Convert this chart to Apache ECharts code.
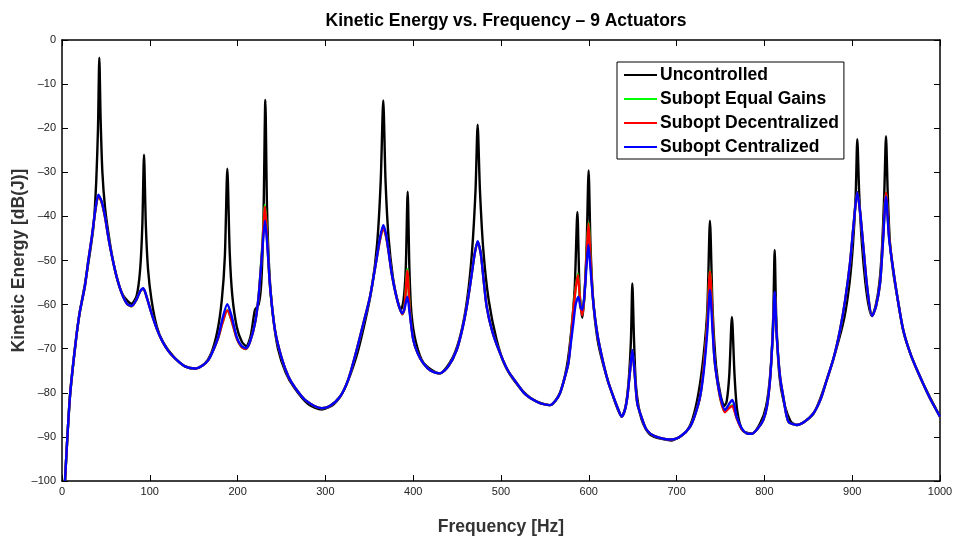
<!DOCTYPE html>
<html>
<head>
<meta charset="utf-8">
<script src="https://cdn.jsdelivr.net/npm/echarts@6/dist/echarts.min.js"></script>
<style>html,body{margin:0;padding:0;background:#fff}#c{width:954px;height:541px}</style>
</head>
<body>
<div id="c"></div>
<script>
var seriesNames = ['Uncontrolled', 'Subopt Equal Gains', 'Subopt Decentralized', 'Subopt Centralized'];
var xTicks = [0, 100, 200, 300, 400, 500, 600, 700, 800, 900, 1000];
var yTicks = [0, -10, -20, -30, -40, -50, -60, -70, -80, -90, -100];

var uncontrolled = [[3.4,-100],[9,-81],[15,-69.5],[20,-62],[26,-55.5],[32,-48],[36,-42],[39,-32],[41,-20],[42.5,-4],[44,-18],[46,-30],[49,-38],[53,-44],[58,-50],[64,-55],[70,-58],[79,-59.8],[85,-58],[89,-52],[91.5,-42],[93.4,-26],[95.5,-42],[98,-52],[102,-59],[108,-65],[115,-68.5],[128,-72],[140,-74],[152,-74.5],[162,-73.5],[170,-71],[177,-66],[182,-59],[185.5,-49],[188.3,-29.2],[191,-48],[194,-58],[199,-65],[205,-68.5],[210,-69.4],[215,-67],[219.8,-61.2],[224,-60],[227,-55],[229.5,-40],[231.6,-13.6],[233.5,-38],[236,-52],[240,-62],[246,-70],[255,-75.5],[265,-79],[280,-82.5],[296,-83.8],[310,-82.5],[322,-79],[335,-72],[345,-64],[353,-56],[359,-46],[363,-32],[365.9,-13.7],[368.5,-32],[372,-45],[377,-54],[382,-59],[386,-61.2],[389,-59],[391.5,-52],[393.7,-34.4],[395.7,-52],[398,-62],[403,-68.5],[412,-73.3],[430,-75.6],[445,-72],[455,-66],[462,-58],[467,-48],[471,-34],[473.4,-19.2],[476,-34],[480,-48],[486,-59],[495,-68],[505,-74],[520,-78.5],[537,-81.6],[556,-82.8],[567,-80.1],[575,-74],[580,-66],[584,-56],[587,-39],[589.5,-57],[592.6,-63],[595,-58],[597.5,-47],[599.8,-29.6],[602,-47],[605,-59],[610,-68],[617,-74],[628,-81],[637.5,-85.4],[642,-83],[645.5,-77],[648,-68],[649.6,-55.2],[651.5,-68],[654,-79],[660,-86],[670,-89.5],[694,-90.8],[710,-89],[718,-86],[725,-80],[731,-71],[735,-61],[738,-41],[741,-61],[745,-74],[750,-80.5],[754.3,-83],[757,-82],[760,-76],[763,-62.8],[766,-76],[769,-84],[775,-88.5],[785.4,-89.3],[795,-87],[802,-83],[807,-75],[810,-63],[811.7,-47.6],[813.5,-63],[817,-76],[822,-82],[830,-86.5],[837,-87.3],[856,-84.7],[871,-77.1],[882,-70],[891,-63],[897,-55],[901,-46],[904,-35],[905.8,-22.5],[908,-35],[911,-46],[915,-55],[919,-60.5],[922.6,-62.6],[927,-60],[931,-55],[934,-47],[936.5,-35],[938.5,-21.8],[940.5,-35],[943,-46],[947,-53],[952,-59],[958,-65.8],[966,-71],[977,-76.3],[988,-80.8],[1000,-85.4]];

var equalGains = [[3.4,-100],[9,-81],[15,-69.5],[20,-62],[26,-55.9],[30,-50],[34,-44.6],[38,-38.7],[41.4,-35.4],[45,-36.7],[49,-40.2],[53,-45],[57,-49.1],[62,-53.5],[68,-57.4],[74,-59.8],[79.3,-60.4],[85,-58.8],[89,-57],[92.6,-56.4],[96,-58],[102,-62],[108,-65.5],[113.5,-68],[121,-70.5],[128.7,-72.2],[140,-74],[151.5,-74.5],[160,-73.8],[166.6,-72.6],[173,-70],[178,-67.5],[183,-64],[188.3,-61.2],[193,-63.5],[198.9,-67.6],[204,-69.5],[209.2,-70.1],[214,-68.5],[219.8,-64.2],[224,-58],[228,-47],[231.2,-37.4],[234,-46],[237,-56],[242.6,-65.8],[250,-72],[257.8,-76.3],[266,-79],[276.8,-81.6],[295.7,-83.5],[305,-83],[316.6,-80.9],[326,-77],[335.6,-70.3],[343,-64.5],[350.8,-58.2],[358,-50],[362,-45.5],[365.9,-42.6],[369,-44.5],[372,-48],[375.5,-52.9],[380,-57.5],[384,-60.5],[387.6,-62.2],[390,-61],[393.4,-52],[396,-61],[400.1,-68],[405,-71],[411.5,-73.3],[420,-75],[430.5,-75.6],[440,-74],[449.5,-70.3],[456,-65.5],[461,-60.5],[466,-54],[470,-48.5],[473.4,-45.8],[477,-48.5],[480,-54],[483.7,-60.5],[490,-66],[498.9,-71],[508,-75],[517.9,-77.8],[526,-80],[536.8,-81.6],[545,-82.4],[555.8,-82.8],[562,-81.8],[567.2,-80.1],[572,-77],[576.7,-73.3],[580,-67],[583,-60],[587.5,-53],[590.5,-60],[592.6,-62.2],[595,-58],[597.5,-49],[599.7,-41.4],[602,-50],[605.2,-59.7],[610,-67],[616.6,-73.3],[622,-77.5],[628,-80.9],[633,-83.5],[637.5,-85.4],[641,-84],[643.9,-80.9],[647,-75],[649.6,-70.5],[652,-75],[655.2,-82.4],[660,-85.5],[665.9,-88.4],[675,-89.8],[694.4,-90.6],[705,-89.8],[715.3,-87.7],[721,-85],[726.7,-80.9],[731,-74],[735,-64],[738,-52.3],[741,-64],[743,-72],[745.6,-76.3],[750,-81.5],[755.1,-84.3],[759,-83.5],[763.4,-82.8],[766,-84],[768.3,-85.6],[774,-88.2],[779.8,-89.2],[785.4,-89.3],[792,-88.2],[798.7,-86.2],[803,-83],[806.4,-77.1],[809.5,-67],[811.7,-57.3],[814,-67],[817.8,-76.3],[821.5,-80.9],[827.2,-86.5],[836.8,-87.3],[846,-86.5],[855.7,-84.7],[864,-81.5],[871,-77.1],[879,-72],[886.1,-65.8],[892,-59],[897.5,-50.6],[902,-41],[905.8,-34.5],[909,-39],[912.7,-46.9],[917,-56],[922.6,-62.6],[927,-60.5],[931.7,-55.2],[935,-45.5],[938.5,-34.6],[942,-44.5],[946.8,-52.2],[952,-59],[958.2,-65.8],[967,-71.5],[977.2,-76.3],[988,-81],[1000,-85.4]];

var decentralized = [[3.4,-100],[9,-81],[15,-69.5],[20,-62],[26,-55.9],[30,-50],[34,-44.6],[38,-38.7],[41.4,-35.4],[45,-36.7],[49,-40.2],[53,-45],[57,-49.1],[62,-53.5],[68,-57.4],[74,-59.8],[79.3,-60.4],[85,-58.8],[89,-57],[92.6,-56.4],[96,-58],[102,-62],[108,-65.5],[113.5,-68],[121,-70.5],[128.7,-72.2],[140,-74],[151.5,-74.5],[160,-73.8],[166.6,-72.6],[173,-70],[178,-67.5],[183,-64],[188.3,-61.3],[193,-63.5],[198.9,-67.6],[204,-69.5],[209.2,-70.1],[214,-68.5],[219.8,-64.2],[224,-58],[228,-47.5],[231.2,-37.8],[234,-46.5],[237,-56],[242.6,-65.8],[250,-72],[257.8,-76.3],[266,-79],[276.8,-81.6],[295.7,-83.5],[305,-83],[316.6,-80.9],[326,-77],[335.6,-70.3],[343,-64.5],[350.8,-58.2],[358,-50],[362,-45.5],[365.9,-42.6],[369,-44.5],[372,-48],[375.5,-52.9],[380,-57.5],[384,-60.5],[387.6,-62.2],[390,-61],[393.4,-52.3],[396,-61],[400.1,-68],[405,-71],[411.5,-73.3],[420,-75],[430.5,-75.6],[440,-74],[449.5,-70.3],[456,-65.5],[461,-60.5],[466,-54],[470,-48.5],[473.4,-45.8],[477,-48.5],[480,-54],[483.7,-60.5],[490,-66],[498.9,-71],[508,-75],[517.9,-77.8],[526,-80],[536.8,-81.6],[545,-82.4],[555.8,-82.8],[562,-81.8],[567.2,-80.1],[572,-77],[576.7,-73.3],[580,-67],[583,-60],[587.5,-53.3],[590.5,-60.2],[592.6,-62.4],[595,-58],[597.5,-49],[599.7,-41.6],[602,-50],[605.2,-59.7],[610,-67],[616.6,-73.3],[622,-77.5],[628,-80.9],[633,-83.5],[637.5,-85.4],[641,-84],[643.9,-80.9],[647,-75],[649.6,-70.5],[652,-75],[655.2,-82.4],[660,-85.5],[665.9,-88.4],[675,-89.8],[694.4,-90.6],[705,-89.8],[715.3,-87.7],[721,-85],[726.7,-80.9],[731,-74],[735,-64],[738,-52.5],[741,-64],[743,-72],[745.6,-76.3],[750,-81.5],[755.1,-84.4],[759,-83.6],[763.4,-83],[766,-84.2],[768.3,-85.7],[774,-88.2],[779.8,-89.2],[785.4,-89.3],[792,-88.2],[798.7,-86.2],[803,-83],[806.4,-77.1],[809.5,-67],[811.7,-57.3],[814,-67],[817.8,-76.3],[821.5,-80.9],[827.2,-86.5],[836.8,-87.3],[846,-86.5],[855.7,-84.7],[864,-81.5],[871,-77.1],[879,-72],[886.1,-65.8],[892,-59],[897.5,-50.6],[902,-41],[905.8,-34.5],[909,-39],[912.7,-46.9],[917,-56],[922.6,-62.6],[927,-60.5],[931.7,-55.2],[935,-45.5],[938.5,-34.6],[942,-44.5],[946.8,-52.2],[952,-59],[958.2,-65.8],[967,-71.5],[977.2,-76.3],[988,-81],[1000,-85.4]];

var centralized = [[3.4,-100],[9,-81],[15,-69.5],[20,-62],[26,-55.9],[30,-50],[34,-44.6],[38,-38.5],[41.4,-35.1],[45,-36.5],[49,-40],[53,-45],[57,-49.1],[62,-53.5],[68,-57.4],[74,-59.8],[79.3,-60.3],[85,-58.8],[89,-57],[92.6,-56.3],[96,-58],[102,-62],[108,-65.5],[113.5,-68],[121,-70.5],[128.7,-72.2],[140,-74],[151.5,-74.5],[160,-73.8],[166.6,-72.6],[173,-70],[178,-67.3],[183,-63],[188.3,-59.9],[193,-62.5],[198.9,-67.3],[204,-69.3],[209.2,-69.9],[214,-68.5],[219.8,-64.2],[224,-58],[228,-48],[231.2,-41],[234,-47],[237,-56],[242.6,-65.8],[250,-72],[257.8,-76.3],[266,-79],[276.8,-81.6],[295.7,-83.5],[305,-83],[316.6,-80.9],[326,-77],[335.6,-70.3],[343,-64.5],[350.8,-58.2],[358,-50],[362,-45],[365.9,-42],[369,-44],[372,-48],[375.5,-52.9],[380,-57.5],[384,-60.5],[387.6,-62],[390,-61],[393.3,-58.2],[396,-62],[400.1,-68],[405,-71],[411.5,-73.3],[420,-75],[430.5,-75.6],[440,-74],[449.5,-70.3],[456,-65.5],[461,-60.5],[466,-54],[470,-48.5],[473.4,-45.6],[477,-48.5],[480,-54],[483.7,-60.5],[490,-66],[498.9,-71],[508,-75],[517.9,-77.8],[526,-80],[536.8,-81.6],[545,-82.4],[555.8,-82.8],[562,-81.8],[567.2,-80.1],[572,-77],[576.7,-73.3],[580,-68],[582.4,-64.2],[585,-60],[588.1,-58.2],[590.5,-60.5],[592.6,-61.2],[595,-58],[597.5,-51],[599.5,-46.5],[602,-52],[605.2,-59.7],[610,-67],[616.6,-73.3],[622,-77.5],[628,-80.9],[633,-83.5],[637.5,-85.4],[641,-84],[643.9,-80.9],[647,-75],[649.6,-70.3],[652,-75],[655.2,-82.4],[660,-85.5],[665.9,-88.4],[675,-89.8],[694.4,-90.6],[705,-89.8],[715.3,-87.7],[721,-85],[726.7,-80.9],[731,-75],[735,-66],[738,-56.7],[741,-66],[743,-72],[745.6,-76.3],[750,-81],[755.1,-83.9],[759,-82.8],[763.4,-81.6],[766,-83],[768.3,-85.4],[774,-88],[779.8,-89.2],[785.4,-89.3],[792,-88.2],[798.7,-86.2],[803,-83],[806.4,-77.1],[809.5,-67],[811.7,-57.1],[814,-67],[817.8,-76.3],[821.5,-80.9],[827.2,-86.5],[836.8,-87.3],[846,-86.5],[855.7,-84.7],[864,-81.5],[871,-77.1],[879,-72],[886.1,-65.8],[892,-59],[897.5,-50.6],[902,-41],[905.8,-34.5],[909,-39],[912.7,-46.9],[917,-56],[922.6,-62.6],[927,-60.5],[931.7,-55.2],[935,-46],[938.5,-35.5],[942,-45],[946.8,-52.2],[952,-59],[958.2,-65.8],[967,-71.5],[977.2,-76.3],[988,-81],[1000,-85.4]];

var seriesData = [uncontrolled, equalGains, decentralized, centralized];
var seriesColors = ['#000000', '#00ff00', '#ff0000', '#0000ff'];

var FONT = 'Liberation Sans, Arial, Helvetica, sans-serif';
var chart = echarts.init(document.getElementById('c'), null, {renderer: 'canvas'});

function fmt(v) { return v < 0 ? '\u2013' + Math.abs(v) : String(v); }

var tickStyle = {show: true, inside: true, length: 6, lineStyle: {color: '#000', width: 1}};
var lineStyle = {show: true, onZero: false, lineStyle: {color: '#000', width: 1.5}};

var option = {
  animation: false,
  backgroundColor: '#ffffff',
  title: {
    text: 'Kinetic Energy vs. Frequency \u2013 9 Actuators',
    left: 501, top: 7, textAlign: 'center',
    textStyle: {fontFamily: FONT, fontWeight: 'bold', fontSize: 17.5, color: '#000'}
  },
  grid: {left: 62, right: 14, top: 40, bottom: 60, containLabel: false, outerBoundsMode: 'none'},
  legend: {
    orient: 'vertical', left: 617, top: 62,
    backgroundColor: '#fff', borderColor: '#000', borderWidth: 1,
    padding: [3, 5, 2, 7],
    itemWidth: 33, itemHeight: 2, itemGap: 4,
    icon: 'rect',
    textStyle: {fontFamily: FONT, fontWeight: 'bold', fontSize: 17.5, lineHeight: 20, color: '#000', padding: [0, 0, 0, -2]},
    data: seriesNames
  },
  xAxis: [{
    type: 'value', min: 0, max: 1000, interval: 100,
    name: 'Frequency [Hz]', nameLocation: 'middle', nameGap: 37, nameMoveOverlap: false,
    nameTextStyle: {fontFamily: FONT, fontWeight: 'bold', fontSize: 17.5, color: '#333'},
    axisLine: lineStyle, axisTick: tickStyle,
    axisLabel: {fontFamily: FONT, fontSize: 11, color: '#222', margin: 5,
      formatter: function (v) { return xTicks.indexOf(v) >= 0 ? fmt(v) : ''; }},
    splitLine: {show: false}
  }, {
    type: 'value', min: 0, max: 1000, interval: 100, position: 'top',
    axisLine: lineStyle, axisTick: tickStyle, axisLabel: {show: false}, splitLine: {show: false}
  }],
  yAxis: [{
    type: 'value', min: -100, max: 0, interval: 10,
    name: 'Kinetic Energy [dB(J)]', nameLocation: 'middle', nameGap: 34, nameMoveOverlap: false,
    nameTextStyle: {fontFamily: FONT, fontWeight: 'bold', fontSize: 17.5, color: '#333'},
    axisLine: lineStyle, axisTick: tickStyle,
    axisLabel: {fontFamily: FONT, fontSize: 11, color: '#222', margin: 6,
      formatter: function (v) { return yTicks.indexOf(v) >= 0 ? fmt(v) : ''; }},
    splitLine: {show: false}
  }, {
    type: 'value', min: -100, max: 0, interval: 10, position: 'right',
    axisLine: lineStyle, axisTick: tickStyle, axisLabel: {show: false}, splitLine: {show: false}
  }],
  series: seriesNames.map(function (name, i) {
    return {
      name: name, type: 'line', data: seriesData[i],
      xAxisIndex: 0, yAxisIndex: 0,
      symbol: 'none', showSymbol: false,
      smooth: 0.25,
      clip: true,
      itemStyle: {color: seriesColors[i]},
      lineStyle: {color: seriesColors[i], width: 2.4},
      z: 2 + i
    };
  })
};
chart.setOption(option);
</script>
</body>
</html>
